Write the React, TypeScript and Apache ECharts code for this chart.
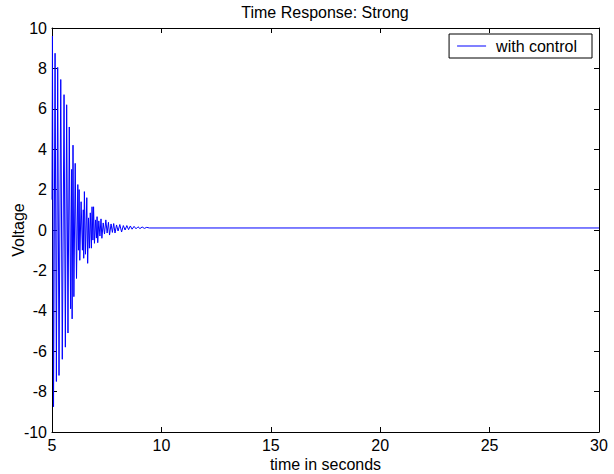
import React, { useEffect, useRef } from "react";
import * as echarts from "echarts";

const TITLE = "Time Response: Strong";
const X_NAME = "time in seconds";
const Y_NAME = "Voltage";
const SERIES_NAME = "with control";

const times = [
  5.0, 5.02, 5.07, 5.14, 5.2, 5.26, 5.32, 5.4, 5.47, 5.55, 5.61, 5.67, 5.73, 5.79,
  5.85, 5.9, 5.92, 5.96, 6.0, 6.06, 6.12, 6.18, 6.21, 6.24, 6.27, 6.33, 6.39, 6.43,
  6.45, 6.48, 6.53, 6.59, 6.63, 6.67, 6.71, 6.75, 6.8, 6.83, 6.87, 6.9, 6.94, 6.99,
  7.03, 7.06, 7.09, 7.14, 7.19, 7.24, 7.28, 7.34, 7.4, 7.46, 7.52, 7.58, 7.63, 7.7,
  7.76, 7.82, 7.88, 7.95, 8.02, 8.1, 8.18, 8.26, 8.34, 8.42, 8.5, 8.58, 8.66, 8.75,
  8.84, 8.93, 9.02, 9.12, 9.22, 9.33, 9.45, 30,
];
// voltage at each of those times
const voltages = [
  1.5, 9.6, -8.75, 8.75, -7.5, 8.05, -7.2, 7.45, -6.4, 6.7, -5.8, 6.2, -5.1, 5.1,
  -3.9, 3.0, -4.4, 4.2, -3.3, 3.3, -2.4, 2.25, -1.0, 2.0, -1.5, 1.4, -1.0, 1.0,
  -1.4, 1.9, -1.2, 1.6, -1.65, 0.6, -0.9, 0.85, -0.9, 1.15, -0.5, 1.15, -0.66, 0.5,
  -0.4, 0.66, -0.63, 0.45, -0.3, 0.55, -0.41, 0.35, -0.2, 0.5, -0.15, 0.38, -0.25, 0.3,
  -0.12, 0.32, -0.15, 0.25, -0.05, 0.27, -0.1, 0.22, 0.0, 0.22, 0.02, 0.2, 0.04, 0.18,
  0.06, 0.16, 0.07, 0.15, 0.08, 0.13, 0.1, 0.1,
];

const X_MIN = 5;
const X_MAX = 30;
const X_STEP = 5;
const Y_MIN = -10;
const Y_MAX = 10;
const Y_STEP = 2;

const FONT = "'Liberation Sans', Arial, Helvetica, sans-serif";
const FS = 16;

export default function App() {
  const ref = useRef<HTMLDivElement>(null);
  useEffect(() => {
    if (!ref.current) return;
    const chart = echarts.init(ref.current, null, { renderer: "svg" });
    const data = times.map((t, i) => [t, voltages[i]]);
    const axisLine = { show: true, onZero: false, lineStyle: { color: "#000", width: 1 } };
    const tick = { show: true, inside: true, length: 5, lineStyle: { color: "#000", width: 1 } };
    chart.setOption({
      animation: false,
      backgroundColor: "#fff",
      textStyle: { fontFamily: FONT },
      title: {
        text: TITLE,
        left: 325,
        top: 4,
        padding: 0,
        textAlign: "center",
        textStyle: { fontFamily: FONT, fontSize: FS, fontWeight: "normal", color: "#000" },
      },
      legend: {
        data: [SERIES_NAME],
        right: 22,
        top: 34,
        backgroundColor: "#fff",
        borderColor: "#000",
        borderWidth: 1,
        borderRadius: 0,
        padding: [4, 15, 4, 8],
        icon: "rect",
        itemWidth: 29,
        itemHeight: 1,
        itemGap: 10,
        textStyle: { fontFamily: FONT, fontSize: FS, color: "#000", padding: [0, 0, 0, 5] },
      },
      grid: { left: 52, right: 15, top: 28, bottom: 42, containLabel: false, outerBoundsMode: "none" },
      xAxis: [
        {
          type: "value",
          min: X_MIN,
          max: X_MAX,
          interval: X_STEP,
          position: "bottom",
          name: X_NAME,
          nameLocation: "middle",
          nameGap: 24,
          nameMoveOverlap: false,
          nameTextStyle: { fontFamily: FONT, fontSize: FS, color: "#000" },
          axisLine,
          axisTick: tick,
          axisLabel: { fontFamily: FONT, fontSize: FS, color: "#000", margin: 5 },
          splitLine: { show: false },
        },
        {
          type: "value",
          min: X_MIN,
          max: X_MAX,
          interval: X_STEP,
          position: "top",
          axisLine,
          axisTick: tick,
          axisLabel: { show: false },
          splitLine: { show: false },
        },
      ],
      yAxis: [
        {
          type: "value",
          min: Y_MIN,
          max: Y_MAX,
          interval: Y_STEP,
          position: "left",
          name: Y_NAME,
          nameLocation: "middle",
          nameGap: 26,
          nameRotate: 90,
          nameMoveOverlap: false,
          nameTextStyle: { fontFamily: FONT, fontSize: FS, color: "#000" },
          axisLine,
          axisTick: tick,
          axisLabel: { fontFamily: FONT, fontSize: FS, color: "#000", margin: 5 },
          splitLine: { show: false },
        },
        {
          type: "value",
          min: Y_MIN,
          max: Y_MAX,
          interval: Y_STEP,
          position: "right",
          axisLine,
          axisTick: tick,
          axisLabel: { show: false },
          splitLine: { show: false },
        },
      ],
      series: [
        {
          name: SERIES_NAME,
          type: "line",
          xAxisIndex: 0,
          yAxisIndex: 0,
          data,
          symbol: "none",
          showSymbol: false,
          color: "#0000ff",
          lineStyle: { color: "#0000ff", width: 1 },
        },
      ],
    });
    return () => chart.dispose();
  }, []);
  return <div ref={ref} style={{ width: 614, height: 474, position: "absolute", left: 0, top: 0 }} />;
}
